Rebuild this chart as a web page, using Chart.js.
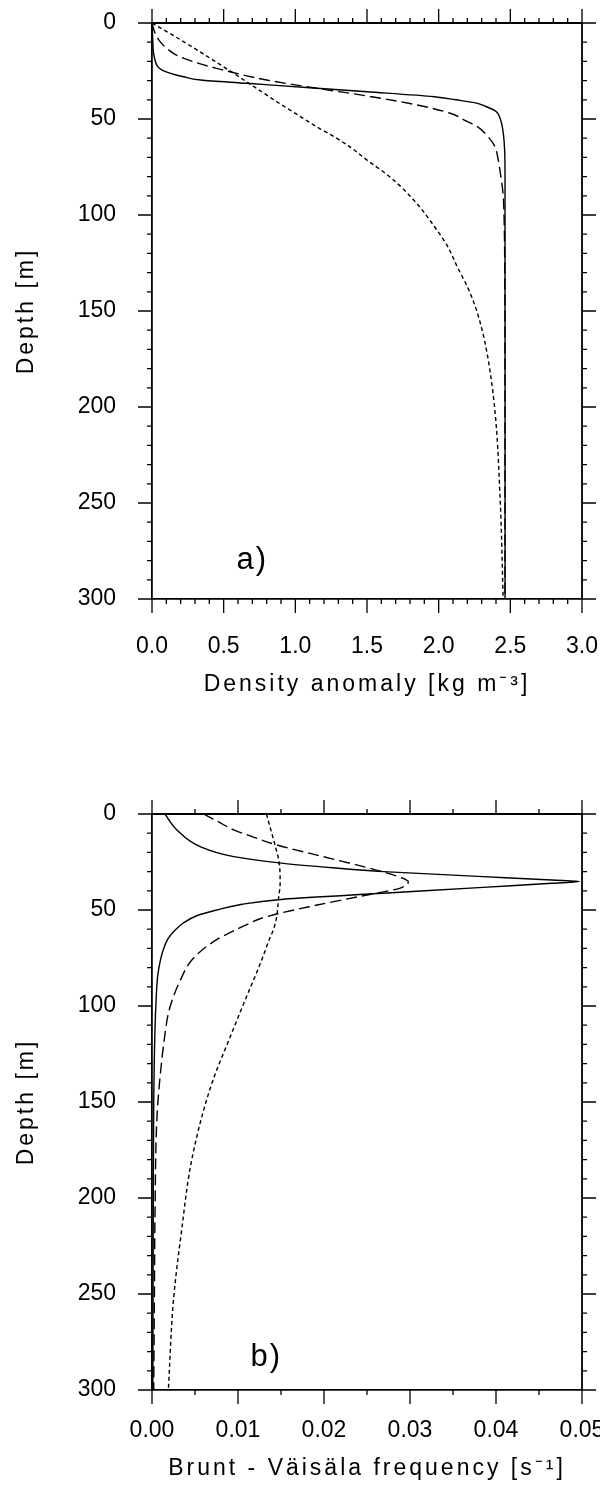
<!DOCTYPE html>
<html><head><meta charset="utf-8">
<script src="https://cdn.jsdelivr.net/npm/chart.js@4.4.0/dist/chart.umd.min.js"></script>
<style>
html,body{margin:0;padding:0;background:#fff;}
#wrap{position:relative;width:600px;height:1502px;background:#fff;}
canvas{position:absolute;left:0;}
</style></head><body>
<div id="wrap">
<canvas id="chartA" width="600" height="760" style="top:0"></canvas>
<canvas id="chartB" width="600" height="742" style="top:760px"></canvas>
</div>
<script>
// ---------- tick labels ----------
const densityTicks = [0, 0.5, 1.0, 1.5, 2.0, 2.5, 3.0];
const depthTicks = [0, 50, 100, 150, 200, 250, 300];
const freqTicks = [0, 0.01, 0.02, 0.03, 0.04, 0.05];

// ---------- Panel a: density anomaly [kg m-3] vs depth [m] ----------
const rhoSolidDepth = [0, 5, 10, 15, 19, 22.7, 24.5, 26.2, 28, 29.7, 31.4, 34, 35.8, 38.4, 40, 41.5, 43.5, 46, 50, 57, 66, 80, 100, 150, 200, 250, 300];
const rhoSolidVal   = [0, 0.003, 0.006, 0.01, 0.02, 0.04, 0.07, 0.13, 0.22, 0.34, 0.66, 1.15, 1.50, 1.97, 2.12, 2.25, 2.33, 2.40, 2.43, 2.45, 2.46, 2.463, 2.463, 2.463, 2.463, 2.463, 2.463];

const rhoDashDepth = [0, 5, 9.7, 13, 16.7, 20, 23.6, 29.7, 34, 38, 42.7, 47, 51, 54, 58, 64, 71, 78, 88, 100, 150, 200, 300];
const rhoDashVal   = [0, 0.02, 0.056, 0.1, 0.17, 0.28, 0.45, 0.80, 1.15, 1.50, 1.85, 2.08, 2.19, 2.27, 2.33, 2.39, 2.415, 2.43, 2.448, 2.456, 2.462, 2.463, 2.463];

const rhoDotDepth = [0, 9.7, 20, 30.6, 40, 48, 55, 59.2, 65, 71.4, 79, 87, 96, 106, 116, 127, 139, 151, 169, 200, 250, 300];
const rhoDotVal   = [0, 0.22, 0.44, 0.66, 0.85, 1.02, 1.17, 1.27, 1.39, 1.50, 1.64, 1.76, 1.87, 1.97, 2.06, 2.13, 2.21, 2.27, 2.33, 2.39, 2.43, 2.45];

// ---------- Panel b: Brunt-Väisälä frequency [s-1] vs depth [m] ----------
const n2SolidDepth = [0, 8.3, 17, 22.2, 25.7, 28, 30, 32.6, 34.4, 35.2, 36.1, 38.2, 41.3, 44.4, 47, 50, 53, 56.9, 60.4, 64.7, 70.8, 83, 100, 112, 150, 200, 300];
const n2SolidVal   = [0.0015, 0.0029, 0.0056, 0.0095, 0.0153, 0.021, 0.0269, 0.0385, 0.0465, 0.0497, 0.0465, 0.0385, 0.0269, 0.0153, 0.0105, 0.0075, 0.0052, 0.0036, 0.0027, 0.0019, 0.0013, 0.0007, 0.00045, 0.00035, 0.0002, 0.00015, 0.0001];

const n2DashDepth = [0, 4, 8.3, 12, 16.1, 22.2, 29.2, 33.5, 35.2, 36.5, 38.7, 42.2, 47.4, 53.5, 58, 61.3, 64.7, 71.7, 78, 86.5, 95, 103.8, 115, 129.8, 156, 208, 250, 300];
const n2DashVal   = [0.006, 0.0077, 0.0095, 0.0118, 0.0145, 0.0199, 0.0261, 0.0292, 0.0298, 0.0297, 0.0288, 0.025, 0.0192, 0.0133, 0.0108, 0.0093, 0.0078, 0.0056, 0.0043, 0.0033, 0.0025, 0.0019, 0.0015, 0.0011, 0.0006, 0.00035, 0.00028, 0.0002];

const n2DotDepth = [0, 8, 16.1, 25.7, 36.1, 44.4, 53.5, 60.4, 64.7, 77.8, 95.1, 116, 138.5, 161, 185.4, 214.9, 253, 300];
const n2DotVal   = [0.0133, 0.0138, 0.0143, 0.0148, 0.0149, 0.0147, 0.0145, 0.0141, 0.0137, 0.0126, 0.011, 0.0091, 0.0071, 0.0056, 0.0044, 0.0035, 0.0025, 0.0019];

const densityMinorStep = 0.1, freqMinorStep = 0.005, depthMinorStep = 10;

const FONT = '"Liberation Sans", Arial, Helvetica, sans-serif';

function steps(min, max, step) {
  const out = [];
  const n = Math.round((max - min) / step);
  for (let i = 0; i <= n; i++) out.push(+(min + i * step).toFixed(6));
  return out;
}

function ds(depth, val, dash) {
  return {
    data: depth.map((d, i) => ({ x: val[i], y: d })),
    borderColor: '#000', borderWidth: 1.4, borderDash: dash,
    pointRadius: 0, fill: false, cubicInterpolationMode: 'monotone'
  };
}

const frameTicks = {
  id: 'frameTicks',
  afterDraw(chart, args, o) {
    const { ctx, chartArea: { left, right, top, bottom }, scales: { x, y } } = chart;
    ctx.save();
    ctx.strokeStyle = '#000';
    ctx.lineWidth = 1.8;
    ctx.beginPath();
    ctx.moveTo(left, top); ctx.lineTo(right, top); ctx.lineTo(right, bottom);
    ctx.stroke();
    ctx.lineWidth = 1.3;
    ctx.beginPath();
    const seg = (a, b, c, d) => { ctx.moveTo(a, b); ctx.lineTo(c, d); };
    const isMajor = (v, list) => list.some(m => Math.abs(m - v) < 1e-6);
    for (const v of o.xMinor) {
      const px = x.getPixelForValue(v);
      const L = isMajor(v, o.xMajor) ? o.major : o.minor;
      seg(px, bottom, px, bottom + L);
      seg(px, top, px, top - L);
    }
    for (const v of o.yMinor) {
      const py = y.getPixelForValue(v);
      const L = isMajor(v, o.yMajor) ? o.major : o.minor;
      seg(left, py, left - L, py);
      seg(right, py, right + L, py);
    }
    ctx.stroke();
    ctx.restore();
  }
};

const titlesPlugin = {
  id: 'titles',
  afterDraw(chart, args, o) {
    const { ctx, chartArea: { left, right, top, bottom }, scales: { x, y } } = chart;
    ctx.save();
    ctx.fillStyle = '#000';
    ctx.letterSpacing = '3px';
    ctx.font = '23px ' + FONT;
    ctx.textAlign = 'center';
    ctx.textBaseline = 'middle';
    ctx.fillText(o.xTitle, (left + right) / 2, o.xTitleY);
    ctx.save();
    ctx.translate(o.yTitleX, (top + bottom) / 2);
    ctx.rotate(-Math.PI / 2);
    ctx.fillText(o.yTitle, 0, 0);
    ctx.restore();
    ctx.letterSpacing = '2px';
    ctx.font = '31px ' + FONT;
    ctx.fillText(o.panel, x.getPixelForValue(o.panelX), y.getPixelForValue(o.panelDepth));
    ctx.restore();
  }
};

function makeChart(id, sets, xmin, xmax, xTicks, decimals, xMinorStep, bottomH, labelPad, titles) {
  return new Chart(document.getElementById(id), {
    type: 'line',
    data: { datasets: sets },
    options: {
      indexAxis: 'y', responsive: false, animation: false, events: [],
      layout: { padding: { top: titles.topPad, right: 18, left: 0, bottom: 0 } },
      plugins: {
        legend: { display: false }, tooltip: { enabled: false },
        frameTicks: {
          xMajor: xTicks, xMinor: steps(xmin, xmax, xMinorStep),
          yMajor: depthTicks, yMinor: steps(0, 300, depthMinorStep),
          major: 14, minor: 5
        },
        titles: titles
      },
      scales: {
        x: {
          type: 'linear', position: 'bottom', min: xmin, max: xmax,
          afterBuildTicks: s => { s.ticks = xTicks.map(v => ({ value: v })); },
          ticks: { callback: v => Number(v).toFixed(decimals), color: '#000', font: { family: FONT, size: 23 }, padding: labelPad, maxRotation: 0, autoSkip: false },
          grid: { display: false, drawTicks: true, tickLength: 14 },
          border: { display: true, color: '#000', width: 1.8 },
          afterFit: s => { s.height = bottomH; s.paddingLeft = 0; s.paddingRight = 0; }
        },
        y: {
          type: 'linear', position: 'left', min: 0, max: 300, reverse: true,
          afterBuildTicks: s => { s.ticks = depthTicks.map(v => ({ value: v })); },
          ticks: { callback: v => String(v), color: '#000', font: { family: FONT, size: 23 }, padding: 21, autoSkip: false },
          grid: { display: false, drawTicks: true, tickLength: 15 },
          border: { display: true, color: '#000', width: 1.8 },
          afterFit: s => { s.width = 152; s.paddingTop = 0; s.paddingBottom = 0; }
        }
      }
    },
    plugins: [frameTicks, titlesPlugin]
  });
}

makeChart('chartA', [
  ds(rhoSolidDepth, rhoSolidVal, []),
  ds(rhoDashDepth, rhoDashVal, [11, 5]),
  ds(rhoDotDepth, rhoDotVal, [4, 3])
], 0, 3, densityTicks, 1, densityMinorStep, 161, 20, {
  topPad: 23, xTitle: 'Density anomaly [kg m\u207B\u00B3]', xTitleY: 685, yTitle: 'Depth [m]', yTitleX: 27,
  panel: 'a)', panelX: 0.70, panelDepth: 280
});

makeChart('chartB', [
  ds(n2SolidDepth, n2SolidVal, []),
  ds(n2DashDepth, n2DashVal, [11, 5]),
  ds(n2DotDepth, n2DotVal, [4, 3])
], 0, 0.05, freqTicks, 2, freqMinorStep, 112, 13, {
  topPad: 54, xTitle: 'Brunt - V\u00E4is\u00E4la frequency [s\u207B\u00B9]', xTitleY: 709, yTitle: 'Depth [m]', yTitleX: 27,
  panel: 'b)', panelX: 0.0133, panelDepth: 283
});
</script>
</body></html>
